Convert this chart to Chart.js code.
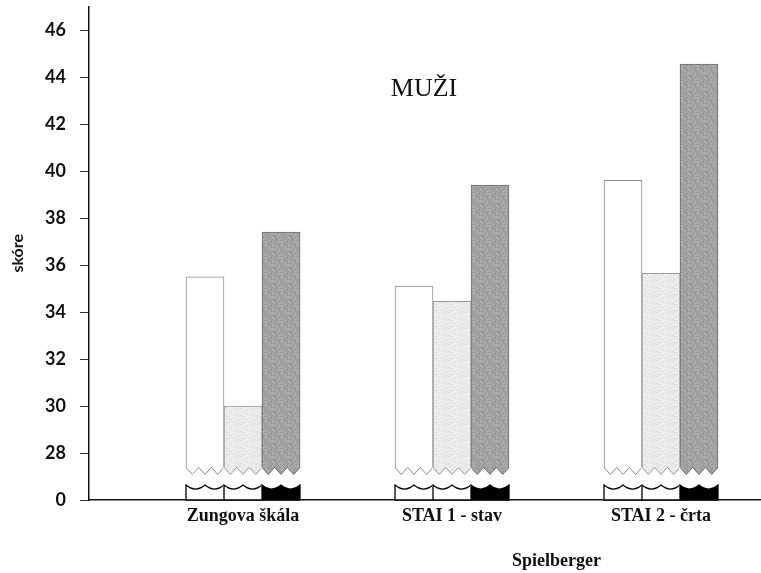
<!DOCTYPE html>
<html>
<head>
<meta charset="utf-8">
<script src="https://cdn.jsdelivr.net/npm/chart.js@4/dist/chart.umd.min.js"></script>
<style>
  html, body { margin: 0; padding: 0; background: #fff; }
  #wrap { width: 761px; height: 573px; position: relative; }
</style>
</head>
<body>
<div id="wrap"><canvas id="c" width="761" height="573"></canvas></div>
<script>
// ---- data ----
const categories = ["Zungova škála", "STAI 1 - stav", "STAI 2 - črta"];
const series1 = [35.5, 35.1, 39.6];   // white bars
const series2 = [30.0, 34.45, 35.65]; // light grey bars
const series3 = [37.4, 39.4, 44.55];  // dark grey bars
const yTickValues = [26, 28, 30, 32, 34, 36, 38, 40, 42, 44, 46];
const yTickLabels = ["0", "28", "30", "32", "34", "36", "38", "40", "42", "44", "46"];
const chartTitle = "MUŽI";
const xAxisTitle = "Spielberger";
const yAxisTitle = "skóre";

// ---- style ----
function grain(base, amp) {
  // deterministic grain texture (style only)
  const c = document.createElement('canvas');
  c.width = 16; c.height = 16;
  const g = c.getContext('2d');
  const img = g.createImageData(16, 16);
  let s = 12345;
  for (let i = 0; i < 256; i++) {
    s = (s * 1103515245 + 12345) & 0x7fffffff;
    const d = ((s >> 8) % (2 * amp + 1)) - amp;
    const v = Math.max(0, Math.min(255, base + d));
    img.data[i * 4] = v; img.data[i * 4 + 1] = v; img.data[i * 4 + 2] = v; img.data[i * 4 + 3] = 255;
  }
  g.putImageData(img, 0, 0);
  return g.createPattern(c, 'repeat');
}
const fills = ["#ffffff", grain(234, 10), grain(162, 16)];
const borders = ["#8c8c8c", "#9a9a9a", "#6e6e6e"];
const lowerFills = ["#ffffff", "#ffffff", "#000000"];
const BREAK_HI = 27.3;   // upper piece bottom (zigzag)
const BREAK_LO = 26.55;  // lower piece top (wave)

const toPts = arr => arr.map((v, i) => ({ x: i, y: v }));

const breakPlugin = {
  id: 'axisBreak',
  afterDatasetsDraw(chart) {
    const ctx = chart.ctx;
    const ys = chart.scales.y;
    const yHi = ys.getPixelForValue(BREAK_HI);
    const yLo = ys.getPixelForValue(BREAK_LO);
    const base = chart.chartArea.bottom;
    chart.data.datasets.forEach((ds, di) => {
      const meta = chart.getDatasetMeta(di);
      meta.data.forEach(el => {
        const w = el.width, l = el.x - w / 2, r = el.x + w / 2;
        const n = 3;
        ctx.save();
        ctx.beginPath();
        ctx.moveTo(l - 1, yHi - 2);
        for (let k = 0; k < n; k++) {
          const a = l + (w * k) / n;
          ctx.lineTo(a, yHi - 2);
          ctx.lineTo(a + w / (2 * n), yHi + 5);
        }
        ctx.lineTo(r, yHi - 2);
        ctx.lineTo(r + 1, yHi - 2);
        ctx.lineTo(r + 1, base - 0.5);
        ctx.lineTo(l - 1, base - 0.5);
        ctx.closePath();
        ctx.fillStyle = '#ffffff';
        ctx.fill();
        ctx.beginPath();
        ctx.moveTo(l, yHi - 2);
        for (let k = 0; k < n; k++) {
          const a = l + (w * k) / n;
          ctx.lineTo(a, yHi - 2);
          ctx.lineTo(a + w / (2 * n), yHi + 5);
        }
        ctx.lineTo(r, yHi - 2);
        ctx.strokeStyle = borders[di];
        ctx.lineWidth = 1;
        ctx.stroke();
        ctx.beginPath();
        ctx.moveTo(l, base);
        ctx.lineTo(l, yLo - 2);
        const m = 2;
        for (let k = 0; k < m; k++) {
          const a = l + (w * k) / m;
          const b = a + w / m;
          ctx.quadraticCurveTo((a + b) / 2, yLo + 6, b, yLo - 2);
        }
        ctx.lineTo(r, base);
        ctx.closePath();
        ctx.fillStyle = lowerFills[di];
        ctx.fill();
        ctx.strokeStyle = '#000';
        ctx.lineWidth = 1.3;
        ctx.stroke();
        ctx.restore();
      });
    });
  },
  afterDraw(chart) {
    const ctx = chart.ctx;
    const xs = chart.scales.x, ys = chart.scales.y;
    ctx.save();
    ctx.fillStyle = '#111';
    ctx.textAlign = 'center';
    ctx.textBaseline = 'middle';
    ctx.font = '26px "Liberation Serif"';
    ctx.fillText(chartTitle, xs.getPixelForValue(0.866), ys.getPixelForValue(43.5));
    ctx.font = 'bold 18px "Liberation Serif"';
    ctx.fillText(xAxisTitle, xs.getPixelForValue(1.5), 561);
    ctx.restore();
  }
};

new Chart(document.getElementById('c'), {
  type: 'bar',
  data: {
    datasets: [
      { data: toPts(series1), backgroundColor: fills[0], borderColor: borders[0], borderWidth: 1 },
      { data: toPts(series2), backgroundColor: fills[1], borderColor: borders[1], borderWidth: 1 },
      { data: toPts(series3), backgroundColor: fills[2], borderColor: borders[2], borderWidth: 1 }
    ]
  },
  options: {
    responsive: false,
    animation: false,
    barThickness: 38,
    layout: { padding: { top: 6.5, right: 0, left: 0, bottom: 0 } },
    plugins: { legend: { display: false }, tooltip: { enabled: false } },
    scales: {
      x: {
        type: 'linear',
        offset: false,
        min: -154 / 209,
        max: 518 / 209,
        afterBuildTicks: s => { s.ticks = categories.map((_, i) => ({ value: i })); },
        afterFit: s => { s.height = 73; s.paddingLeft = 0; s.paddingRight = 0; },
        ticks: {
          autoSkip: false, maxRotation: 0, padding: 6,
          color: '#111',
          font: { family: '"Liberation Serif"', size: 18, weight: 'bold' },
          callback: v => categories[v]
        },
        grid: { drawOnChartArea: false, drawTicks: false, color: 'rgba(0,0,0,0)' },
        border: { display: true, color: '#111', width: 1.5 }
      },
      y: {
        type: 'linear',
        min: 26,
        max: 47,
        afterBuildTicks: s => { s.ticks = yTickValues.map(v => ({ value: v })); },
        afterFit: s => { s.width = 89; s.paddingTop = 0; s.paddingBottom = 0; },
        ticks: {
          autoSkip: false, padding: 14, color: '#111',
          font: { family: 'Lato', size: 18, weight: 'bold' },
          callback: (v) => yTickLabels[yTickValues.indexOf(v)]
        },
        grid: { drawOnChartArea: false, drawTicks: true, tickLength: 9, color: '#333', lineWidth: 1 },
        border: { display: true, color: '#111', width: 1.5 },
        title: {
          display: true, text: yAxisTitle, color: '#111',
          font: { family: 'Lato', size: 16, weight: 'bold' },
          padding: { top: 8, bottom: 0 }
        }
      }
    }
  },
  plugins: [breakPlugin]
});
</script>
</body>
</html>
